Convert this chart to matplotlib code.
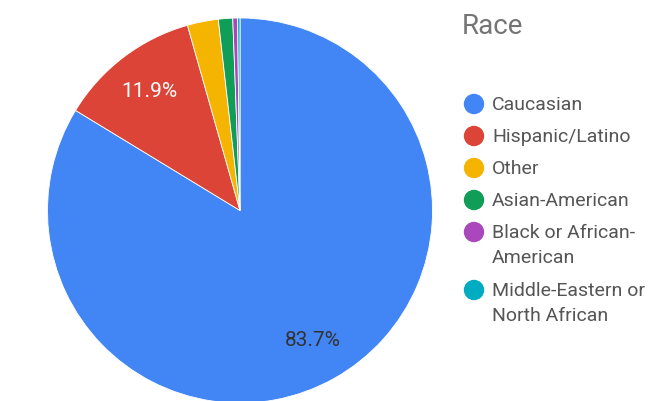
import matplotlib
matplotlib.use("Agg")
import matplotlib.pyplot as plt
from matplotlib.patches import Circle

plt.rcParams['font.family'] = ['Roboto', 'DejaVu Sans']

categories = ["Caucasian", "Hispanic/Latino", "Other", "Asian-American",
              "Black or African-American", "Middle-Eastern or North African"]
legend_labels = ["Caucasian", "Hispanic/Latino", "Other", "Asian-American",
                 "Black or African-\nAmerican", "Middle-Eastern or\nNorth African"]
values = [83.7, 11.9, 2.6, 1.2, 0.4, 0.2]
colors = ["#4285F4", "#DB4437", "#F4B400", "#0F9D58", "#AB47BC", "#00ACC1"]
title = "Race"

W, H = 655, 401
fig = plt.figure(figsize=(W / 100, H / 100), dpi=100)

cx, cy, r = 240, 210.5, 192.5
ax = fig.add_axes([(cx - r) / W, (H - cy - r) / H, 2 * r / W, 2 * r / H])
wedges, texts, autotexts = ax.pie(
    values, colors=colors, startangle=90, counterclock=False,
    autopct=lambda p: f"{p:.1f}%" if p > 5 else "", pctdistance=0.775,
    wedgeprops=dict(linewidth=0.6, edgecolor="white"),
    textprops=dict(fontsize=15))
for i, t in enumerate(autotexts):
    t.set_color("white" if i == 1 else "#333333")
ax.set_xlim(-1, 1)
ax.set_ylim(-1, 1)
ax.axis("off")

# Legend
fig.text(462 / W, 1 - 27 / H, title, fontsize=20, color="#757575",
         ha="left", va="center")
ys = [104, 136, 168, 200, 232, 290]
lax = fig.add_axes([0, 0, 1, 1], facecolor="none")
lax.set_xlim(0, W)
lax.set_ylim(H, 0)
lax.axis("off")
for y, lab, c in zip(ys, legend_labels, colors):
    lax.add_patch(Circle((474, y), 9.5, color=c))
    lax.text(492, y - 8, lab, fontsize=14, color="#555555", ha="left",
             va="top", linespacing=1.5)

fig.savefig("out.png", dpi=100)
